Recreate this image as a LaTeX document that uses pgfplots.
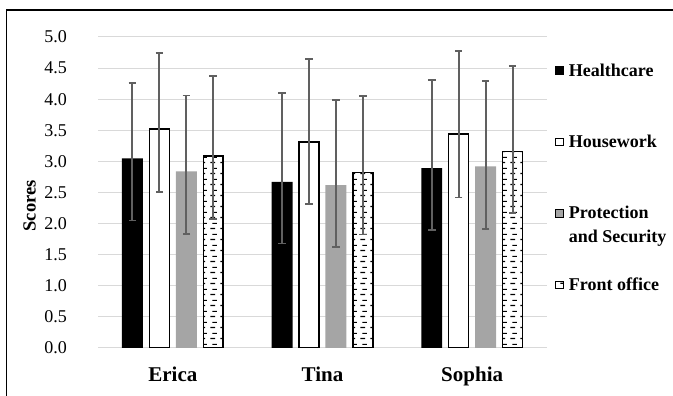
\documentclass[border=0pt]{standalone}
\usepackage{fontspec}
\setmainfont{Liberation Serif}
\usepackage{pgfplots}
\pgfplotsset{compat=1.18}
\usetikzlibrary{patterns}
\definecolor{gridgray}{HTML}{D9D9D9}
\definecolor{protgray}{HTML}{A5A5A5}
\definecolor{errgray}{HTML}{606060}
\pgfdeclarepatternformonly{hdash}{\pgfqpoint{0pt}{0pt}}{\pgfqpoint{10pt}{11pt}}{\pgfqpoint{10pt}{11pt}}{%
  \pgfsetlinewidth{1.3pt}%
  \pgfpathmoveto{\pgfqpoint{0.5pt}{2.75pt}}\pgfpathlineto{\pgfqpoint{5.5pt}{2.75pt}}%
  \pgfpathmoveto{\pgfqpoint{2.5pt}{8.25pt}}\pgfpathlineto{\pgfqpoint{7.5pt}{8.25pt}}%
  \pgfusepath{stroke}}
\pgfplotsset{mylegend/.style={legend image code/.code={\draw[##1,line width=0.9pt] (0pt,1.8pt) rectangle (7.5pt,9.3pt);}},
  myerr/.style={error bars/.cd, y dir=both, y explicit, error mark=-,
    error bar style={draw=errgray, line width=1.9pt},
    error mark options={draw=errgray, rotate=90, mark size=3.8pt, line width=1.9pt}}}
\begin{document}
\begin{tikzpicture}
\useasboundingbox (0,0) rectangle (673pt,396pt);
\draw[line width=1.8pt] (6.5pt,-5pt) -- (6.5pt,386pt) -- (690pt,386pt);
\begin{axis}[
  at={(98pt,48pt)}, anchor=south west,
  width=449pt, height=311pt, scale only axis,
  ybar, bar width=0.14, bar shift=0pt,
  xmin=-0.5, xmax=2.5, ymin=0, ymax=5,
  xtick={0,1,2}, xticklabels={Erica,Tina,Sophia},
  ytick={0,0.5,1,1.5,2,2.5,3,3.5,4,4.5,5},
  ymajorgrids, major grid style={gridgray, line width=1pt},
  axis line style={draw=none}, major tick length=0pt,
  xticklabel style={font=\bfseries\fontsize{21}{24}\selectfont, anchor=north, inner sep=0pt, yshift=-18.5pt},
  yticklabel style={font=\fontsize{18}{20}\selectfont, anchor=east, inner sep=0pt, xshift=-31pt,
    /pgf/number format/.cd, fixed, fixed zerofill, precision=1, assume math mode=true},
  ylabel={Scores},
  ylabel style={at={(axis description cs:-0.1526,0.457)}, anchor=center, font=\bfseries\fontsize{18.5}{20}\selectfont},
  legend style={at={(1,1)}, anchor=north west, xshift=8pt, yshift=-25pt, draw=none, fill=none,
    inner sep=0pt, outer sep=0pt, row sep=27.5pt, column sep=5.5pt,
    font=\bfseries\fontsize{18}{23.3}\selectfont,
    cells={anchor=base west},
    nodes={anchor=base west, inner sep=0pt, text height=14pt, text depth=30pt}},
]
\addplot[fill=black, draw=none, mylegend, myerr] coordinates {
  (-0.27,3.05) += (0,1.21) -= (0,1.00)
  (0.73,2.67) += (0,1.43) -= (0,0.99)
  (1.73,2.89) += (0,1.42) -= (0,1.00)};
\addplot[fill=white, draw=black, line width=1.5pt, bar width=0.133, mylegend, myerr] coordinates {
  (-0.09,3.52) += (0,1.22) -= (0,1.01)
  (0.91,3.31) += (0,1.335) -= (0,1.00)
  (1.91,3.44) += (0,1.33) -= (0,1.02)};
\addplot[fill=protgray, draw=none, mylegend, myerr] coordinates {
  (0.09,2.84) += (0,1.22) -= (0,1.00)
  (1.09,2.62) += (0,1.37) -= (0,1.00)
  (2.09,2.92) += (0,1.37) -= (0,1.00)};
\addplot[fill=white, draw=black, line width=1.5pt, bar width=0.133, postaction={pattern=hdash}, mylegend, myerr] coordinates {
  (0.27,3.09) += (0,1.28) -= (0,1.01)
  (1.27,2.825) += (0,1.23) -= (0,1.00)
  (2.27,3.16) += (0,1.37) -= (0,0.99)};
\legend{Healthcare, Housework, {\begin{tabular}[t]{@{}l@{}}Protection\\and Security\end{tabular}}, Front office}
\end{axis}
\end{tikzpicture}
\end{document}
